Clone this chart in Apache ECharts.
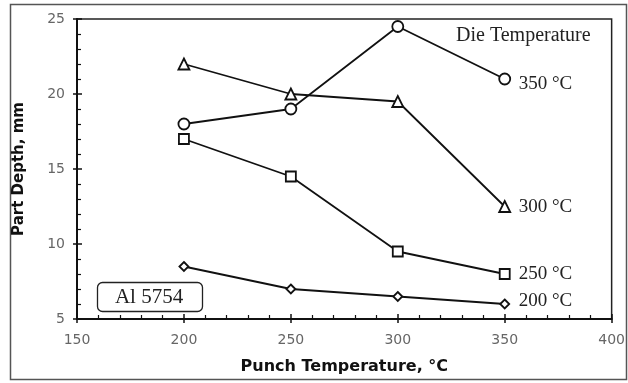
<!DOCTYPE html>
<html>
<head>
<meta charset="utf-8">
<script src="https://cdn.jsdelivr.net/npm/echarts@6/dist/echarts.min.js"></script>
<style>
  html, body { margin: 0; padding: 0; background: #fff; }
  #chart { width: 628px; height: 383px; }
</style>
</head>
<body>
<div id="chart"></div>
<script>
// Punch temperature (°C) on the x axis
const punchTemps = [200, 250, 300, 350];

// Part depth (mm) for each die temperature
const die350 = [18, 19, 24.5, 21];
const die300 = [22, 20, 19.5, 12.5];
const die250 = [17, 14.5, 9.5, 8];
const die200 = [8.5, 7, 6.5, 6];

const seriesNames = ['350 °C', '300 °C', '250 °C', '200 °C'];
const seriesSymbols = ['circle', 'triangle', 'rect', 'diamond'];
const seriesValues = [die350, die300, die250, die200];

const xTicks = { min: 150, max: 400, step: 50 };
const yTicks = { min: 5, max: 25, step: 5 };

const serif = '"Liberation Serif", "Times New Roman", serif';
const sans = '"DejaVu Sans", sans-serif';

const symbolSizes = { circle: 11, triangle: 11, rect: 10, diamond: 9 };
// small vertical nudges for the end labels
const labelOffsets = [[0, 5], [0, 1], [0, 0], [0, -3]];

const chart = echarts.init(document.getElementById('chart'), null, { renderer: 'canvas' });

const series = seriesValues.map((vals, i) => ({
  name: seriesNames[i],
  type: 'line',
  xAxisIndex: 0,
  yAxisIndex: 0,
  data: punchTemps.map((t, j) => [t, vals[j]]),
  symbol: seriesSymbols[i],
  symbolSize: symbolSizes[seriesSymbols[i]],
  showAllSymbol: true,
  lineStyle: { color: '#111', width: 1.8 },
  itemStyle: { color: '#fff', borderColor: '#111', borderWidth: 1.8 },
  emphasis: { disabled: true },
  endLabel: {
    show: true,
    formatter: seriesNames[i],
    distance: 14,
    offset: labelOffsets[i],
    color: '#222',
    fontFamily: serif,
    fontSize: 19
  },
  z: 3
}));

// shared base for the two overlaid axes (outer major ticks / inner minor ticks)
function axisBase(t) {
  return { type: 'value', min: t.min, max: t.max, interval: t.step, splitLine: { show: false } };
}

const option = {
  animation: false,
  backgroundColor: '#fff',
  grid: {
    left: 77, right: 16, top: 19, bottom: 64,
    show: true, borderColor: '#222', borderWidth: 1.5, backgroundColor: 'transparent'
  },
  xAxis: [
    Object.assign(axisBase(xTicks), {
      position: 'bottom',
      axisLine: { show: true, lineStyle: { color: '#111', width: 2 } },
      axisTick: { show: true, inside: false, length: 4, lineStyle: { color: '#111', width: 1.5 } },
      axisLabel: { color: '#666', fontFamily: sans, fontSize: 14, margin: 14 },
      name: 'Punch Temperature, °C',
      nameLocation: 'middle',
      nameGap: 40,
      nameTextStyle: { color: '#111', fontFamily: sans, fontWeight: 'bold', fontSize: 16 }
    }),
    Object.assign(axisBase(xTicks), {
      position: 'bottom',
      axisLine: { show: false },
      axisTick: { show: true, inside: true, length: 5, lineStyle: { color: '#111', width: 1.5 } },
      minorTick: { show: true, splitNumber: 5, length: 4, lineStyle: { color: '#111', width: 1.2 } },
      axisLabel: { show: false }
    })
  ],
  yAxis: [
    Object.assign(axisBase(yTicks), {
      position: 'left',
      axisLine: { show: true, lineStyle: { color: '#111', width: 2 } },
      axisTick: { show: true, inside: false, length: 4, lineStyle: { color: '#111', width: 1.5 } },
      axisLabel: { color: '#666', fontFamily: sans, fontSize: 14, margin: 12 },
      name: 'Part Depth, mm',
      nameLocation: 'middle',
      nameGap: 50,
      nameTextStyle: { color: '#111', fontFamily: sans, fontWeight: 'bold', fontSize: 15 }
    }),
    Object.assign(axisBase(yTicks), {
      position: 'left',
      axisLine: { show: false },
      axisTick: { show: true, inside: true, length: 5, lineStyle: { color: '#111', width: 1.5 } },
      minorTick: { show: true, splitNumber: 5, length: 4, lineStyle: { color: '#111', width: 1.2 } },
      axisLabel: { show: false }
    })
  ],
  series: series,
  graphic: [
    {
      type: 'rect',
      shape: { x: 10.5, y: 4.5, width: 616, height: 375 },
      style: { fill: 'none', stroke: '#555', lineWidth: 1.5 },
      silent: true,
      z: 0
    },
    {
      type: 'text',
      left: 456, top: 26,
      style: { text: 'Die Temperature', fill: '#222', font: '20px ' + serif },
      silent: true
    },
    {
      type: 'rect',
      shape: { x: 97.5, y: 282.5, width: 105, height: 29, r: 5 },
      style: { fill: '#fff', stroke: '#222', lineWidth: 1.3 },
      silent: true,
      z: 5
    },
    {
      type: 'text',
      x: 149, y: 297,
      style: { text: 'Al 5754', fill: '#222', font: '21px ' + serif, align: 'center', verticalAlign: 'middle' },
      silent: true,
      z: 6
    }
  ]
};

chart.setOption(option);
</script>
</body>
</html>
